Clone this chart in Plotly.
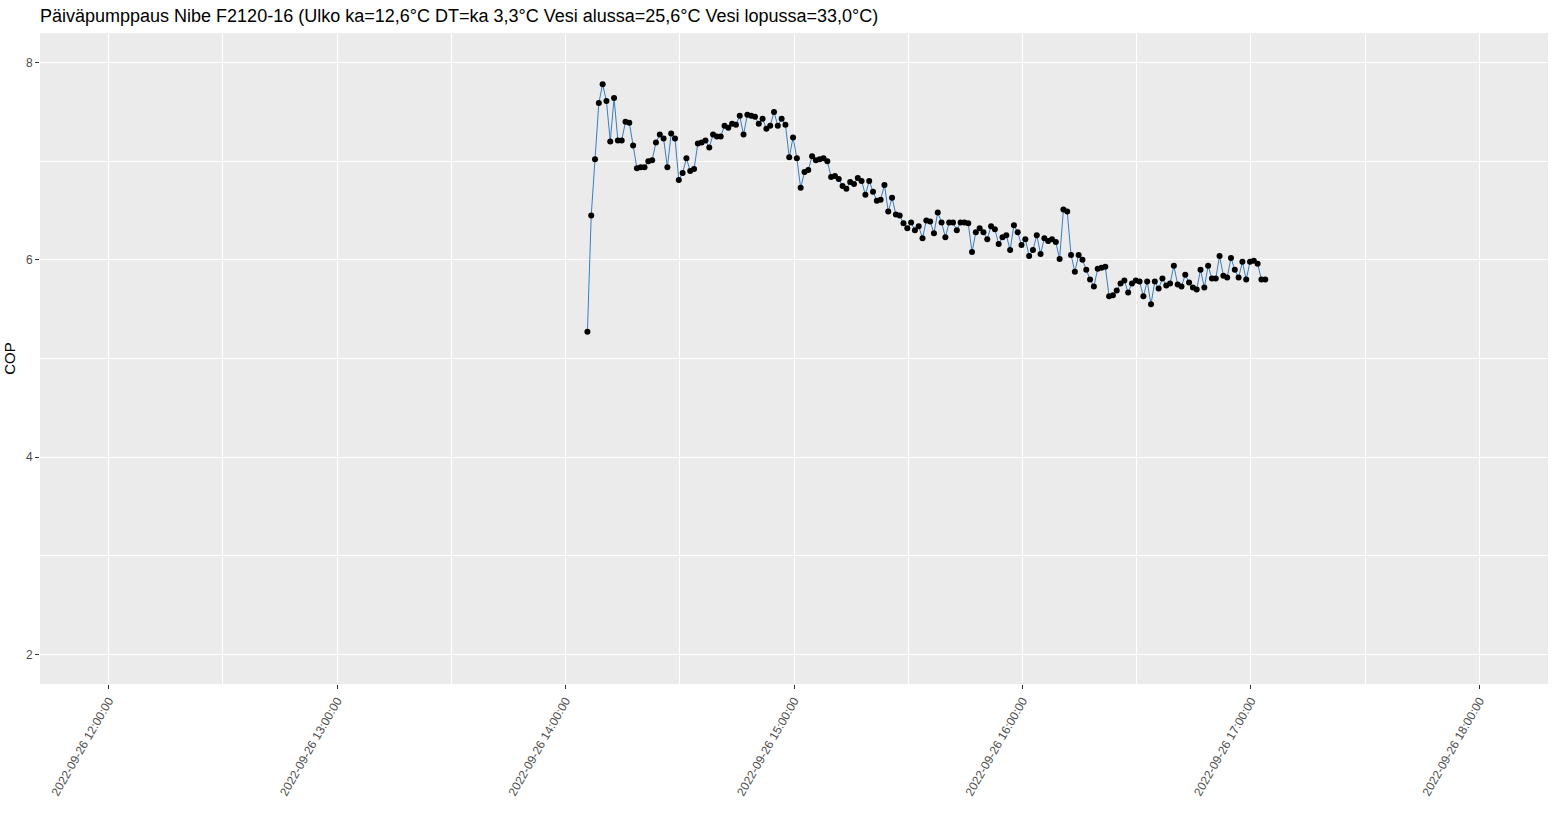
import pandas as pd
import plotly.graph_objects as go

title_text = "Päiväpumppaus Nibe F2120-16 (Ulko ka=12,6°C DT=ka 3,3°C Vesi alussa=25,6°C Vesi lopussa=33,0°C)"
start_time = "2022-09-26 14:05:45"
cop = [
    5.27, 6.45, 7.02, 7.59, 7.78, 7.61, 7.20, 7.64, 7.21, 7.21,
    7.40, 7.39, 7.16, 6.93, 6.94, 6.94, 7.00, 7.01, 7.19, 7.27,
    7.23, 6.94, 7.28, 7.23, 6.81, 6.88, 7.03, 6.90, 6.92, 7.18,
    7.19, 7.21, 7.14, 7.27, 7.25, 7.25, 7.36, 7.34, 7.38, 7.37,
    7.46, 7.27, 7.47, 7.46, 7.45, 7.38, 7.43, 7.33, 7.36, 7.50,
    7.36, 7.43, 7.37, 7.04, 7.24, 7.03, 6.73, 6.89, 6.91, 7.05,
    7.01, 7.02, 7.03, 7.00, 6.84, 6.85, 6.82, 6.75, 6.72, 6.79,
    6.77, 6.83, 6.80, 6.66, 6.80, 6.69, 6.60, 6.61, 6.76, 6.49,
    6.63, 6.46, 6.45, 6.37, 6.32, 6.38, 6.30, 6.34, 6.22, 6.40,
    6.39, 6.27, 6.48, 6.38, 6.23, 6.38, 6.38, 6.30, 6.38, 6.38,
    6.37, 6.08, 6.28, 6.32, 6.28, 6.21, 6.34, 6.31, 6.16, 6.23,
    6.25, 6.10, 6.35, 6.28, 6.15, 6.21, 6.04, 6.10, 6.25, 6.06,
    6.22, 6.19, 6.21, 6.18, 6.01, 6.51, 6.49, 6.05, 5.88, 6.05,
    6.00, 5.90, 5.80, 5.73, 5.91, 5.92, 5.93, 5.63, 5.64, 5.69,
    5.76, 5.79, 5.67, 5.76, 5.79, 5.78, 5.63, 5.78, 5.55, 5.78,
    5.71, 5.81, 5.74, 5.76, 5.94, 5.75, 5.73, 5.85, 5.77, 5.72,
    5.70, 5.90, 5.72, 5.94, 5.81, 5.81, 6.04, 5.84, 5.82, 6.02,
    5.90, 5.82, 5.98, 5.80, 5.98, 5.99, 5.96, 5.80, 5.80,
]
times = pd.date_range(start=start_time, periods=len(cop), freq="1min")

x_range = ["2022-09-26 11:42:00", "2022-09-26 18:18:00"]
y_range = [1.7, 8.3]
y_ticks = [2, 4, 6, 8]

fig = go.Figure()
fig.add_trace(go.Scatter(
    x=times, y=cop, mode="lines",
    line=dict(color="#3A7DC0", width=1),
    showlegend=False, hoverinfo="skip",
))
fig.add_trace(go.Scatter(
    x=times, y=cop, mode="markers",
    marker=dict(color="black", size=6),
    showlegend=False,
))

fig.update_layout(
    width=1557, height=823,
    paper_bgcolor="white", plot_bgcolor="#EBEBEB",
    margin=dict(l=40, r=9, t=33, b=139, autoexpand=False),
    font=dict(family="Liberation Sans, Arial, sans-serif"),
    title=dict(text=title_text, x=0, xanchor="left", xref="paper",
               y=1 - 16/823, yanchor="middle", yref="container",
               font=dict(size=18, color="black")),
)

fig.update_xaxes(
    type="date", range=x_range, automargin=False,
    tick0="2022-09-26 12:00:00", dtick=3600000,
    tickformat="%Y-%m-%d %H:%M:%S", tickangle=-60,
    tickfont=dict(size=12, color="#4D4D4D"),
    ticks="outside", ticklen=4, tickcolor="#333333", tickwidth=1,
    showgrid=True, gridcolor="white", gridwidth=1.2,
    minor=dict(showgrid=True, gridcolor="white", gridwidth=0.6, dtick=1800000,
               tick0="2022-09-26 12:30:00"),
    zeroline=False, showline=False,
)
fig.update_yaxes(
    range=y_range, tickvals=y_ticks, automargin=False,
    tickfont=dict(size=12, color="#4D4D4D"),
    ticks="outside", ticklen=4, tickcolor="#333333", tickwidth=1,
    showgrid=True, gridcolor="white", gridwidth=1.2,
    minor=dict(showgrid=True, gridcolor="white", gridwidth=0.6, tickvals=[3, 5, 7]),
    zeroline=False, showline=False,
    title=dict(text="COP", font=dict(size=15, color="black"), standoff=6),
)

fig.write_html(
    "out.html",
    config={"displayModeBar": False},
    post_script="document.body.style.margin='0';document.body.style.overflow='hidden';",
)
